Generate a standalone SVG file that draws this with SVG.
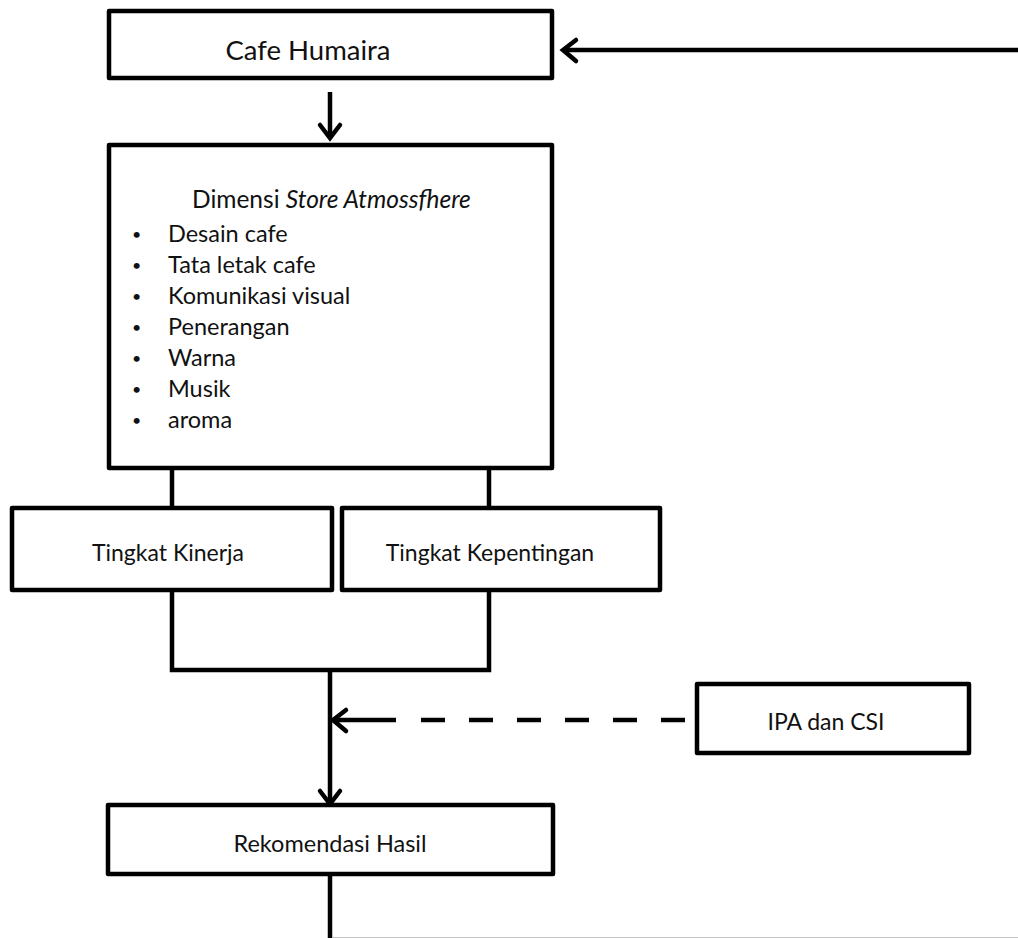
<svg xmlns="http://www.w3.org/2000/svg" width="1018" height="938" viewBox="0 0 1018 938">
<style>
.box{fill:#fff;stroke:#000;stroke-width:4.5;stroke-linejoin:round}
.ln{fill:none;stroke:#000;stroke-width:4.5;stroke-linecap:butt}
.hd{fill:none;stroke:#000;stroke-width:4.5;stroke-linecap:round;stroke-linejoin:miter}
text{font-family:Lato,"Liberation Sans",sans-serif;fill:#111}
.t{font-size:23px;text-anchor:middle}
.l{font-size:23.5px}
.b{font-size:16px}
</style>
<rect width="1018" height="938" fill="#fff"/>
<g id="connectors">
  <line class="ln" x1="1018" y1="50" x2="564" y2="50"/>
  <polyline class="hd" points="576,40 563,50 576,61"/>
  <line class="ln" x1="330" y1="92" x2="330" y2="137"/>
  <polyline class="hd" points="320,125 330,138 340,125"/>
  <line class="ln" x1="172" y1="468" x2="172" y2="508"/>
  <line class="ln" x1="489" y1="468" x2="489" y2="508"/>
  <polyline class="ln" points="172,590 172,670 489,670 489,590"/>
  <line class="ln" x1="330" y1="670" x2="330" y2="803"/>
  <polyline class="hd" points="320,791 330,804 340,791"/>
  <line class="ln" x1="685" y1="720" x2="417" y2="720" stroke-dasharray="24 24"/>
  <line class="ln" x1="396" y1="720" x2="334" y2="720"/>
  <polyline class="hd" points="346,710 333,720 346,731"/>
  <line class="ln" x1="330" y1="874" x2="330" y2="938"/>
  <line x1="332" y1="937.5" x2="1018" y2="937.5" stroke="#c0c0c0" stroke-width="1"/>
</g>
<g id="cafe">
  <rect class="box" x="109" y="11" width="443" height="67"/>
  <text x="308" y="60" style="font-size:27.5px;text-anchor:middle">Cafe Humaira</text>
</g>
<g id="dimensi">
  <rect class="box" x="109" y="145" width="443" height="323"/>
  <text x="192" y="208" style="font-size:24.5px">Dimensi <tspan font-style="italic">Store Atmossfhere</tspan></text>
  <text x="132" y="240" class="b">•</text><text x="168" y="242" class="l">Desain cafe</text>
  <text x="132" y="271" class="b">•</text><text x="168" y="273" class="l">Tata letak cafe</text>
  <text x="132" y="302" class="b">•</text><text x="168" y="304" class="l">Komunikasi visual</text>
  <text x="132" y="333" class="b">•</text><text x="168" y="335" class="l">Penerangan</text>
  <text x="132" y="364" class="b">•</text><text x="168" y="366" class="l">Warna</text>
  <text x="132" y="395" class="b">•</text><text x="168" y="397" class="l">Musik</text>
  <text x="132" y="426" class="b">•</text><text x="168" y="428" class="l">aroma</text>
</g>
<g id="kinerja">
  <rect class="box" x="12" y="508" width="320" height="82"/>
  <text x="168" y="561" class="t">Tingkat Kinerja</text>
</g>
<g id="kepentingan">
  <rect class="box" x="342" y="508" width="318" height="82"/>
  <text x="490" y="561" class="t">Tingkat Kepentingan</text>
</g>
<g id="ipa">
  <rect class="box" x="697" y="684" width="272" height="69"/>
  <text x="826" y="730" class="t">IPA dan CSI</text>
</g>
<g id="rekomendasi">
  <rect class="box" x="108" y="805" width="445" height="69"/>
  <text x="330" y="852" class="t" style="font-size:23.5px">Rekomendasi Hasil</text>
</g>
</svg>
